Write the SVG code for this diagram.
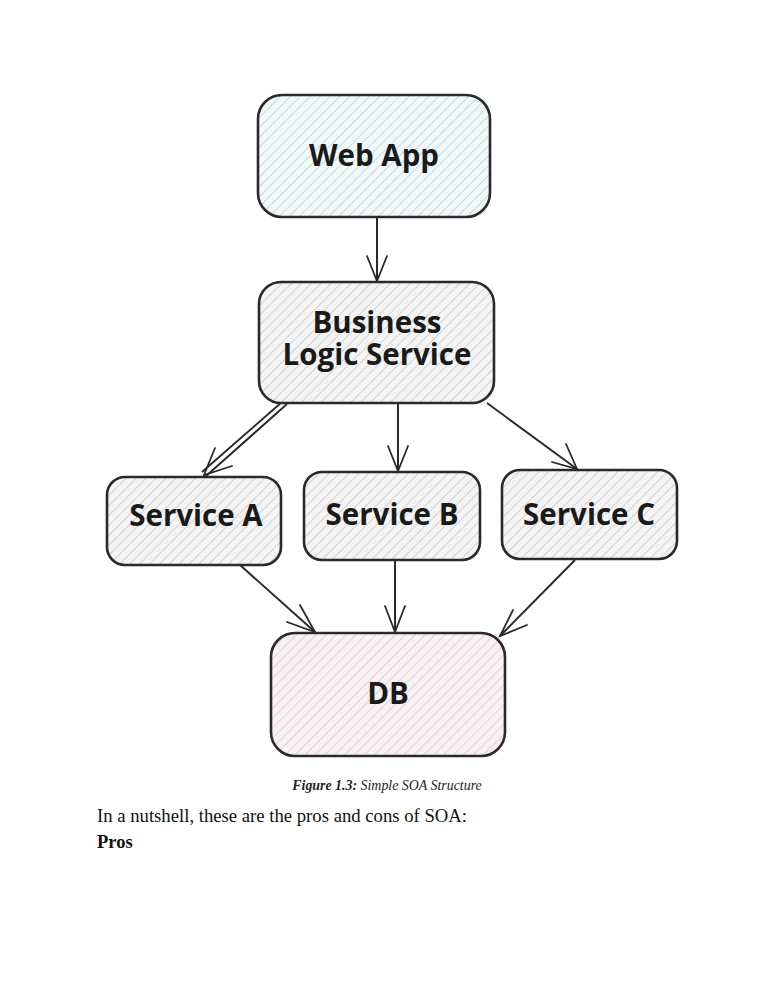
<svg xmlns="http://www.w3.org/2000/svg" width="772" height="1000" viewBox="0 0 772 1000">
<style>
.box{stroke:#2a2a2a;stroke-width:2.6}
.lbl{font-family:"Open Sans","Noto Sans",sans-serif;font-weight:700;font-size:29.5px;fill:#1a1a1a;text-anchor:middle}
.edge{stroke:#2a2a2a;stroke-width:2;fill:none}
.head{stroke:#2a2a2a;stroke-width:1.8;fill:none;stroke-linecap:round}
</style>
<defs>
<pattern id="hGray" width="7" height="7" patternUnits="userSpaceOnUse" patternTransform="rotate(45)">
<rect width="7" height="7" fill="#f4f4f4"/>
<line x1="0" y1="0" x2="0" y2="7" stroke="#c8c8c8" stroke-width="1.6"/>
</pattern>
<pattern id="hCyan" width="7" height="7" patternUnits="userSpaceOnUse" patternTransform="rotate(45)">
<rect width="7" height="7" fill="#f2f8f8"/>
<line x1="0" y1="0" x2="0" y2="7" stroke="#b5dcdc" stroke-width="1.8"/>
</pattern>
<pattern id="hPink" width="7" height="7" patternUnits="userSpaceOnUse" patternTransform="rotate(45)">
<rect width="7" height="7" fill="#f6f2f3"/>
<line x1="0" y1="0" x2="0" y2="7" stroke="#e6c8cf" stroke-width="1.6"/>
</pattern>
</defs>
<rect width="772" height="1000" fill="#ffffff"/>

<g id="connectors">
<path class="edge" d="M377 217 L377 281"/>
<path class="head" d="M367 256 L377 281 L387 256"/>
<path class="edge" d="M287 404 L206 476"/>
<path class="edge" d="M282 402 L202 472"/>
<path class="head" d="M215 448 L204 475 L232 466"/>
<path class="edge" d="M398 403 L398 471"/>
<path class="head" d="M388 446 L398 471 L408 446"/>
<path class="edge" d="M487 403 L577 469"/>
<path class="head" d="M552 462 L577 469 L566 444"/>
<path class="edge" d="M240 565 L315 632"/>
<path class="head" d="M300 605 L315 632 L287 622"/>
<path class="edge" d="M395 560 L395 632"/>
<path class="head" d="M385 606 L395 632 L405 606"/>
<path class="edge" d="M575 560 L500 636"/>
<path class="head" d="M513 610 L500 636 L527 625"/>
</g>

<g id="web-app">
<rect class="box" x="258" y="95" width="232" height="122" rx="24" fill="url(#hCyan)"/>
<text class="lbl" x="374" y="166">Web App</text>
</g>
<g id="business-logic">
<rect class="box" x="259" y="282" width="235" height="121" rx="22" fill="url(#hGray)"/>
<text class="lbl" x="377" y="333">Business</text>
<text class="lbl" x="377" y="365">Logic Service</text>
</g>
<g id="service-a">
<rect class="box" x="107" y="477" width="174" height="88" rx="18" fill="url(#hGray)"/>
<text class="lbl" x="196" y="526">Service A</text>
</g>
<g id="service-b">
<rect class="box" x="304" y="472" width="176" height="88" rx="18" fill="url(#hGray)"/>
<text class="lbl" x="392" y="525">Service B</text>
</g>
<g id="service-c">
<rect class="box" x="502" y="470" width="175" height="89" rx="18" fill="url(#hGray)"/>
<text class="lbl" x="589" y="525">Service C</text>
</g>
<g id="db">
<rect class="box" x="271" y="633" width="234" height="123" rx="24" fill="url(#hPink)"/>
<text class="lbl" x="388" y="704">DB</text>
</g>

<text x="387" y="790" font-family="Liberation Serif,serif" font-style="italic" font-size="13.9" text-anchor="middle" fill="#222"><tspan font-weight="700">Figure 1.3:</tspan> Simple SOA Structure</text>
<text x="97" y="822" font-family="Liberation Serif,serif" font-size="18.7" fill="#111">In a nutshell, these are the pros and cons of SOA:</text>
<text x="97" y="848" font-family="Liberation Serif,serif" font-size="18.5" font-weight="700" fill="#111">Pros</text>
</svg>
